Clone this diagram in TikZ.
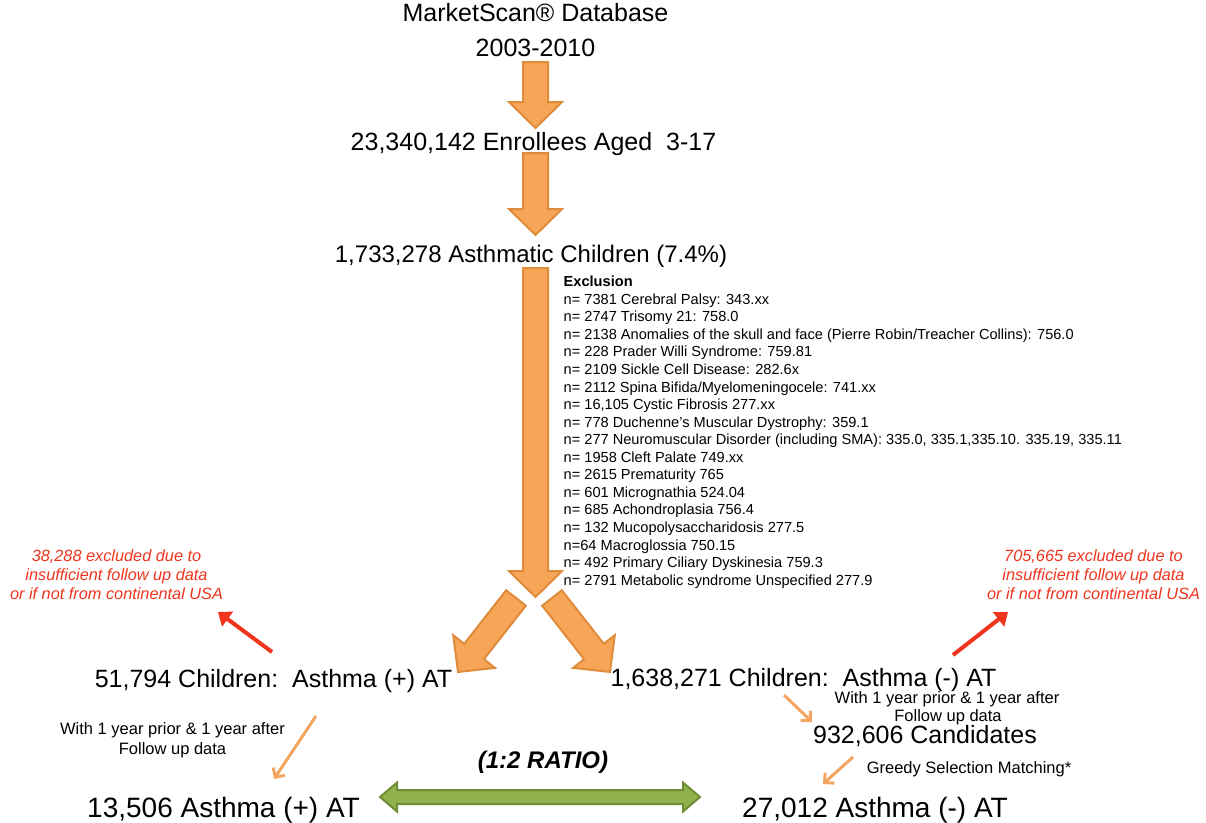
\documentclass[tikz,border=0pt]{standalone}
\usepackage{fontspec}
\setmainfont{Liberation Sans}
\usetikzlibrary{arrows.meta,calc}
\definecolor{orfill}{RGB}{247,166,88}
\definecolor{oredge}{RGB}{222,139,60}
\definecolor{thinor}{RGB}{244,166,96}
\definecolor{redc}{RGB}{240,52,30}
\definecolor{grfill}{RGB}{142,177,78}
\definecolor{gredge}{RGB}{110,142,52}
% block arrow: #1 start point, #2 angle, #3 length
\newcommand\blockarr[3]{%
  \begin{scope}[shift={#1}, rotate=#2]
    \draw[blockstyle] (0,-12.5) -- ({#3-26},-12.5) -- ({#3-26},-26.5) -- (#3,0)
      -- ({#3-26},26.5) -- ({#3-26},12.5) -- (0,12.5) -- cycle;
  \end{scope}}
\tikzset{
  blockstyle/.style={fill=orfill, draw=oredge, line width=2pt, line join=miter},
  big/.style={font=\fontsize{25}{30}\selectfont, inner sep=0pt, anchor=base},
  huge/.style={font=\fontsize{28}{32}\selectfont, inner sep=0pt, anchor=base},
  ratiotxt/.style={font=\fontsize{24}{28}\selectfont\bfseries\itshape, inner sep=0pt, anchor=base},
  small/.style={font=\fontsize{16.5}{20}\selectfont, inner sep=0pt, anchor=base},
  redtxt/.style={font=\fontsize{16.3}{19}\selectfont\itshape, text=redc, inner sep=0pt, anchor=base},
  excl/.style={font=\fontsize{14.6}{17.55}\selectfont, inner sep=0pt, anchor=north west, align=left},
  thinarrow/.style={draw=thinor, line width=3pt, -{Straight Barb[length=7pt,width=14pt]}},
  redarrow/.style={draw=redc, line width=4pt, -{Triangle[length=12pt,width=18pt]}},
}
\begin{document}
\begin{tikzpicture}[x=1pt,y=1pt]
\useasboundingbox (0,0) rectangle (1206,-822);
\fill[white] (0,0) rectangle (1206,-822);

% main labels
\node[big] (db1) at (535.5,-21) {MarketScan® Database};
\node[big] (db2) at (535.5,-56) {2003-2010};
\node[big] (enr) at (533.5,-150) {23,340,142 Enrollees Aged\ \ 3-17};
\node[big, font=\fontsize{24}{28}\selectfont] (asth) at (531,-262) {1,733,278 Asthmatic Children (7.4\%)};
\node[big] (pos) at (273.5,-687) {51,794 Children:\ \ Asthma (+) AT};
\node[big] (neg) at (803.5,-686) {1,638,271 Children:\ \ Asthma (-) AT};
\node[big] (cand) at (925,-743) {932,606 Candidates};
\node[huge] (posm) at (223.5,-817) {13,506 Asthma (+) AT};
\node[huge] (negm) at (875,-817) {27,012 Asthma (-) AT};
\node[ratiotxt] (ratio) at (543,-768) {(1:2 RATIO)};

% small notes
\node[small] (lw1) at (172.5,-734) {With 1 year prior \& 1 year after};
\node[small] (lw2) at (172.5,-754) {Follow up data};
\node[small] (rw1) at (947,-703) {With 1 year prior \& 1 year after};
\node[small] (rw2) at (948,-721) {Follow up data};
\node[small] (greedy) at (969,-773) {Greedy Selection Matching*};

% red notes
\node[redtxt] (lr1) at (116.5,-561) {38,288 excluded due to};
\node[redtxt] (lr2) at (116.5,-580) {insufficient follow up data};
\node[redtxt] (lr3) at (116.5,-599) {or if not from continental USA};
\node[redtxt] (rr1) at (1093.5,-561) {705,665 excluded due to};
\node[redtxt] (rr2) at (1093.5,-580) {insufficient follow up data};
\node[redtxt] (rr3) at (1093.5,-599) {or if not from continental USA};

% exclusion list
\node[excl] (excl) at (563.5,-276) {\textbf{Exclusion}\\
n= 7381 Cerebral Palsy: 343.xx\\
n= 2747 Trisomy 21: 758.0\\
n= 2138 Anomalies of the skull and face (Pierre Robin/Treacher Collins): 756.0\\
n= 228 Prader Willi Syndrome: 759.81\\
n= 2109 Sickle Cell Disease: 282.6x\\
n= 2112 Spina Bifida/Myelomeningocele: 741.xx\\
n= 16,105 Cystic Fibrosis 277.xx\\
n= 778 Duchenne’s Muscular Dystrophy: 359.1\\
n= 277 Neuromuscular Disorder (including SMA): 335.0, 335.1,335.10. 335.19, 335.11\\
n= 1958 Cleft Palate 749.xx\\
n= 2615 Prematurity 765\\
n= 601 Micrognathia 524.04\\
n= 685 Achondroplasia 756.4\\
n= 132 Mucopolysaccharidosis 277.5\\
n=64 Macroglossia 750.15\\
n= 492 Primary Ciliary Dyskinesia 759.3\\
n= 2791 Metabolic syndrome Unspecified 277.9};

% block arrows
\blockarr{(535.5,-62)}{-90}{66}
\blockarr{(535.5,-153)}{-90}{82}
\blockarr{(535.5,-268)}{-90}{329}
\blockarr{(516,-598)}{-128.1}{94}
\blockarr{(552,-598)}{-51.9}{94}

% green double arrow
\coordinate (gl) at (380,-797);
\coordinate (gr) at (700,-797);
\draw[fill=grfill, draw=gredge, line width=2pt]
  (gl) -- ++(17,14.5) -- ++(0,-7.5) -- ($(gr)+(-17,7)$) -- ++(0,7.5) -- (gr)
  -- ++(-17,-14.5) -- ++(0,7.5) -- ($(gl)+(17,-7)$) -- ++(0,-7.5) -- cycle;

% thin orange arrows
\coordinate (t1a) at (316,-716); \coordinate (t1b) at (274,-779);
\coordinate (t2a) at (784,-695); \coordinate (t2b) at (812,-722);
\coordinate (t3a) at (853,-757); \coordinate (t3b) at (823,-784);
\draw[thinarrow] (t1a) -- (t1b);
\draw[thinarrow] (t2a) -- (t2b);
\draw[thinarrow] (t3a) -- (t3b);

% red arrows
\coordinate (r1a) at (272,-652); \coordinate (r1b) at (218,-612);
\coordinate (r2a) at (953,-655); \coordinate (r2b) at (1008,-612);
\draw[redarrow] (r1a) -- (r1b);
\draw[redarrow] (r2a) -- (r2b);
\end{tikzpicture}
\end{document}
